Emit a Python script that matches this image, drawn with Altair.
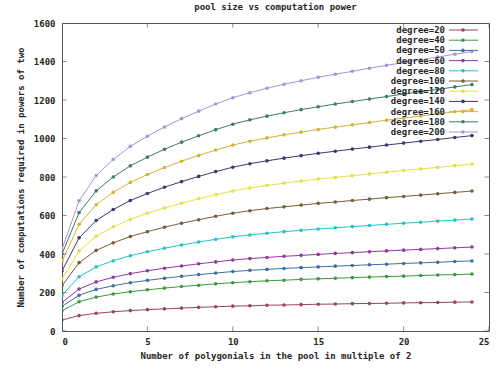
import altair as alt
import pandas as pd

# ---- data ----
degrees = [20, 40, 50, 60, 80, 100, 120, 140, 160, 180, 200]
labels = [f"degree={d}" for d in degrees]
pool_x = list(range(25))

deg20 = [57, 80, 92, 100, 106, 111, 115, 119, 123, 126, 129, 131, 134, 135, 137, 139, 140, 142, 143, 144, 146, 147, 148, 150, 151]
deg40 = [105, 152, 176, 192, 204, 214, 223, 231, 238, 245, 251, 256, 261, 264, 268, 271, 274, 277, 280, 283, 285, 288, 291, 293, 296]
deg50 = [128, 186, 216, 235, 251, 263, 274, 284, 293, 301, 309, 315, 320, 325, 329, 333, 337, 340, 344, 347, 351, 354, 357, 361, 364]
deg60 = [148, 218, 255, 279, 298, 313, 326, 338, 349, 359, 369, 376, 382, 388, 393, 398, 403, 407, 412, 416, 420, 424, 428, 432, 436]
deg80 = [185, 282, 333, 365, 391, 412, 430, 447, 462, 476, 489, 499, 508, 516, 523, 530, 536, 542, 548, 554, 560, 565, 571, 576, 582]
deg100 = [235, 355, 419, 458, 491, 516, 539, 560, 578, 596, 612, 625, 636, 645, 654, 663, 670, 678, 685, 693, 699, 706, 713, 720, 727]
deg120 = [270, 416, 493, 541, 580, 612, 639, 664, 687, 708, 727, 743, 756, 768, 779, 789, 798, 807, 816, 825, 834, 842, 850, 859, 867]
deg140 = [312, 484, 574, 631, 678, 714, 747, 776, 803, 828, 851, 869, 884, 898, 911, 923, 934, 945, 955, 966, 976, 986, 995, 1005, 1015]
deg160 = [362, 554, 656, 720, 772, 813, 849, 882, 912, 940, 966, 986, 1003, 1019, 1033, 1047, 1059, 1071, 1083, 1095, 1106, 1117, 1128, 1139, 1150]
deg180 = [400, 615, 728, 800, 858, 903, 944, 981, 1014, 1046, 1074, 1097, 1116, 1134, 1150, 1165, 1179, 1192, 1205, 1218, 1231, 1243, 1255, 1268, 1280]
deg200 = [425, 676, 808, 891, 959, 1012, 1060, 1103, 1142, 1179, 1212, 1238, 1261, 1282, 1300, 1318, 1334, 1349, 1365, 1380, 1395, 1409, 1423, 1438, 1452]

all_series = [deg20, deg40, deg50, deg60, deg80, deg100, deg120, deg140, deg160, deg180, deg200]
colors = ["#9a4656", "#3c9a3c", "#3f6f9f", "#8e3c9c", "#22c4c8", "#7a5c3a",
          "#e2e23e", "#3a3a6e", "#d4b232", "#3c7c6c", "#a893d6"]

x_ticks = [0, 5, 10, 15, 20, 25]
y_ticks = [0, 200, 400, 600, 800, 1000, 1200, 1400, 1600]

rows = []
for lab, vals in zip(labels, all_series):
    for xv, yv in zip(pool_x, vals):
        rows.append({"x": xv, "value": yv, "series": lab})
df = pd.DataFrame(rows)

FONT = "DejaVu Sans Mono"
TXT = "#262626"

xscale = alt.Scale(domain=[0, 25], nice=False)
yscale = alt.Scale(domain=[0, 1600], nice=False)
cscale = alt.Scale(domain=labels, range=colors)
x_axis = alt.Axis(values=x_ticks, format="d", labelOverlap=False,
                  title="Number of polygonials in the pool in multiple of 2",
                  labelPadding=6, titlePadding=5)
y_axis = alt.Axis(values=y_ticks, format="d", labelOverlap=False,
                  title="Number of computations required in powers of two",
                  labelPadding=7, titlePadding=8)

base = alt.Chart(df).encode(
    x=alt.X("x:Q", scale=xscale, axis=x_axis),
    y=alt.Y("value:Q", scale=yscale, axis=y_axis),
    color=alt.Color("series:N", scale=cscale, legend=None),
)
lines = base.mark_line(strokeWidth=1, clip=True)
points = base.mark_point(filled=True, size=13, opacity=1, clip=True)

# inward ticks on all four sides (clipped half of a centred tick)
xt_df = pd.DataFrame({"t": x_ticks})
yt_df = pd.DataFrame({"t": y_ticks})
tick_style = dict(size=9, thickness=1, color="#555", clip=True)
tick_bottom = alt.Chart(xt_df).mark_tick(orient="vertical", **tick_style).encode(
    x=alt.X("t:Q", scale=xscale, axis=x_axis),
    y=alt.YDatum(0, type="quantitative", scale=yscale, axis=y_axis))
tick_top = alt.Chart(xt_df).mark_tick(orient="vertical", **tick_style).encode(
    x=alt.X("t:Q", scale=xscale, axis=x_axis),
    y=alt.YDatum(1600, type="quantitative", scale=yscale, axis=y_axis))
tick_left = alt.Chart(yt_df).mark_tick(orient="horizontal", **tick_style).encode(
    y=alt.Y("t:Q", scale=yscale, axis=y_axis),
    x=alt.XDatum(0, type="quantitative", scale=xscale, axis=x_axis))
tick_right = alt.Chart(yt_df).mark_tick(orient="horizontal", **tick_style).encode(
    y=alt.Y("t:Q", scale=yscale, axis=y_axis),
    x=alt.XDatum(25, type="quantitative", scale=xscale, axis=x_axis))

main = alt.layer(lines, points, tick_bottom, tick_top, tick_left, tick_right)

# gnuplot-style key: label on the left, sample line on the right
leg_df = pd.DataFrame({"series": labels})
leg_y = alt.Y("series:N", sort=labels, axis=None,
              scale=alt.Scale(type="point", range=[7, 109], padding=0))
leg_text = alt.Chart(leg_df).mark_text(align="right", baseline="middle", font=FONT, fontSize=9,
                                       fontWeight="bold", color=TXT).encode(
    y=leg_y, x=alt.value(383), text="series:N")
leg_rule = alt.Chart(leg_df).mark_rule(strokeWidth=1).encode(
    y=leg_y, x=alt.value(387), x2=alt.value(416),
    color=alt.Color("series:N", scale=cscale, legend=None))
leg_pt = alt.Chart(leg_df).mark_point(filled=True, size=13, opacity=1).encode(
    y=leg_y, x=alt.value(401),
    color=alt.Color("series:N", scale=cscale, legend=None))
legend = alt.layer(leg_text, leg_rule, leg_pt)

chart = alt.layer(main, legend).resolve_scale(y="independent").properties(
    width=427, height=308,
    background="white",
    title=alt.TitleParams("pool size vs computation power", font=FONT, fontSize=9,
                          fontWeight="bold", color=TXT, anchor="middle", offset=7),
    autosize=alt.AutoSizeParams(type="none"),
    padding={"left": 62, "top": 23, "right": 11, "bottom": 41},
).configure_view(
    stroke="#555", strokeWidth=1
).configure_axis(
    domain=False, ticks=False, grid=False,
    labelFont=FONT, labelFontSize=9, labelFontWeight="bold", labelColor=TXT,
    titleFont=FONT, titleFontSize=9, titleFontWeight="bold", titleColor=TXT,
)

chart.save("out.html", embed_options={"renderer": "svg", "actions": False})
